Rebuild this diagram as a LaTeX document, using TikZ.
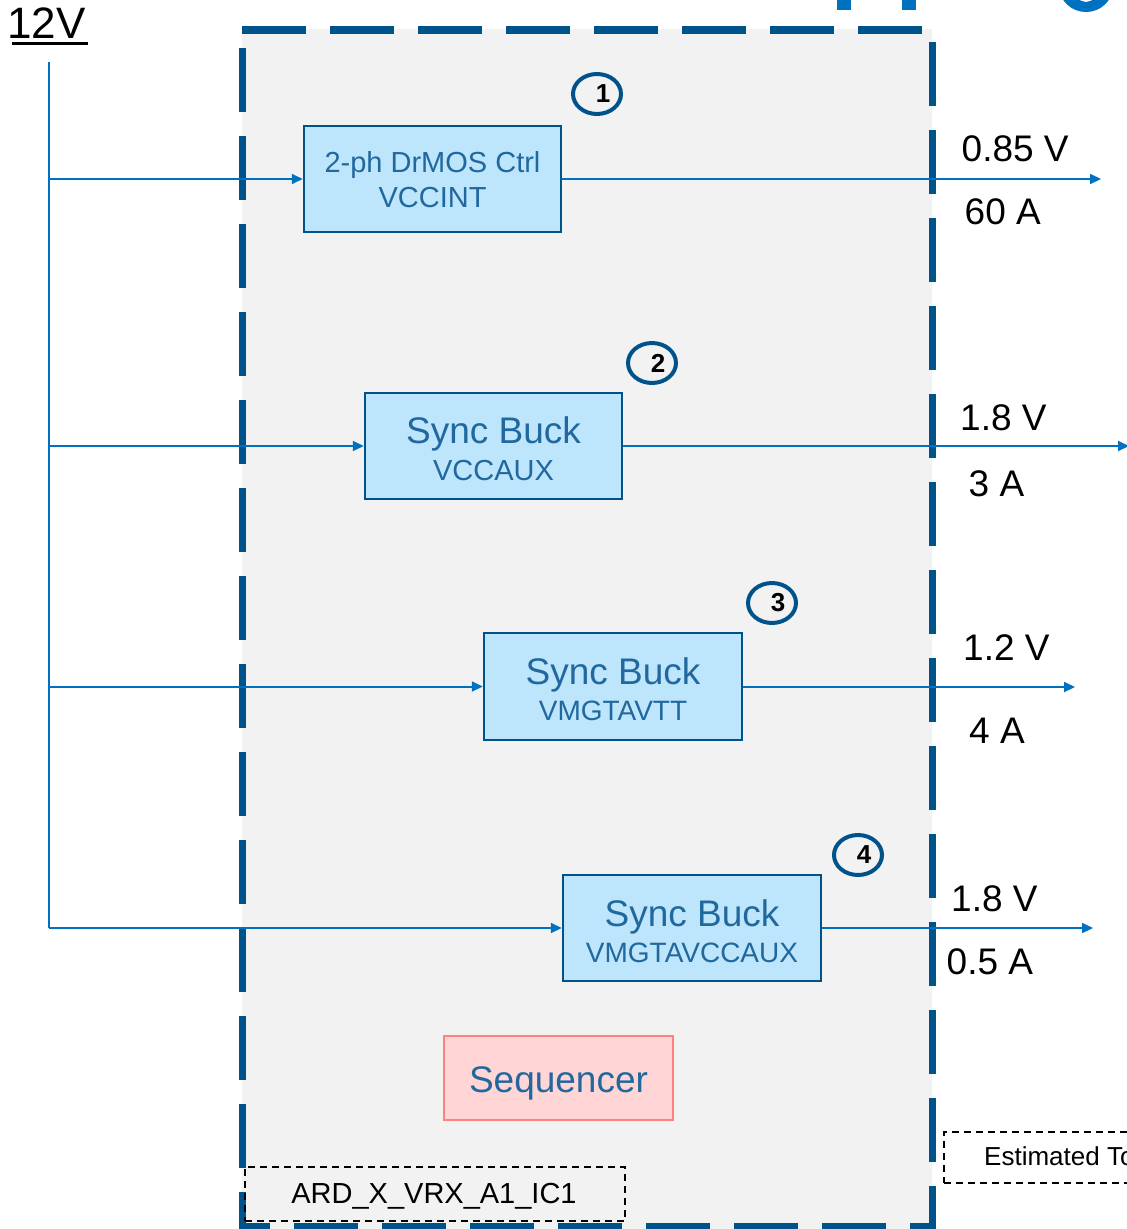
\documentclass[tikz,border=0pt]{standalone}
\usepackage{fontspec}
\setmainfont{Liberation Sans}
\usetikzlibrary{arrows.meta,shapes.geometric}
\definecolor{frameblue}{RGB}{0,83,138}
\definecolor{lineblue}{RGB}{0,112,192}
\definecolor{boxfill}{RGB}{189,229,252}
\definecolor{boxtext}{RGB}{33,104,158}
\definecolor{bggray}{RGB}{242,242,242}
\definecolor{seqfill}{RGB}{255,213,213}
\definecolor{seqdraw}{RGB}{255,128,128}
\newcommand{\myfs}[1]{\fontsize{#1}{#1}\selectfont}
\begin{document}
\begin{tikzpicture}[x=1pt,y=-1pt,
  frame/.style={draw=frameblue, line width=7.5pt, dash pattern=on 64pt off 24pt},
  conv/.style={draw=frameblue, line width=2.5pt, fill=boxfill, minimum width=257pt, minimum height=106pt, inner sep=0pt},
  seqbox/.style={draw=seqdraw, line width=2.5pt, fill=seqfill, minimum width=229pt, minimum height=84pt, inner sep=0pt},
  btxt/.style={text=boxtext, inner sep=0pt, anchor=base},
  wire/.style={draw=lineblue, line width=2pt},
  arr/.style={wire, -{Triangle[length=11pt,width=10pt]}},
  badge/.style={ellipse, draw=frameblue, line width=4pt, minimum width=48pt, minimum height=40pt, inner sep=0pt},
  num/.style={inner sep=0pt, font=\bfseries\myfs{26}, text=black},
  lbl/.style={inner sep=0pt, anchor=base west, font=\myfs{37}, text=black},
  tag/.style={draw=black, line width=1.8pt, dash pattern=on 7pt off 5pt, inner sep=0pt}
]
\useasboundingbox (0,0) rectangle (1127,1229);
\clip (0,0) rectangle (1127,1229);
\fill[white] (0,0) rectangle (1127,1229);

% cut-off title fragments
\fill[lineblue] (837,0) rectangle (851,10);
\fill[lineblue] (902,0) rectangle (916,10);
\fill[lineblue, even odd rule] (1086,-14) ellipse [x radius=27pt, y radius=26pt] (1086,-14) ellipse [x radius=13pt, y radius=16pt];

% module background and dashed frame
\fill[bggray] (242,29) rectangle (932,1229);
\draw[frame, dash phase=70pt] (242.5,30) -- (242.5,1230);
\draw[frame] (242,30) -- (935.5,30);
\draw[frame, dash phase=76pt] (932.5,30) -- (932.5,1230);
\draw[frame, dash phase=32.5pt] (238.5,1226.5) -- (936,1226.5);

% converters
\node[conv] (b1) at (432.5,179) {};
\node[btxt] (b1a) at (432.5,172) {\myfs{29}2-ph DrMOS Ctrl};
\node[btxt] (b1b) at (432.5,207) {\myfs{29}VCCINT};

\node[conv] (b2) at (493.5,446) {};
\node[btxt] (b2a) at (493.5,443) {\myfs{37}Sync Buck};
\node[btxt] (b2b) at (493.5,480) {\myfs{29}VCCAUX};

\node[conv, minimum width=258pt, minimum height=107pt] (b3) at (613,686.5) {};
\node[btxt] (b3a) at (613,684) {\myfs{37}Sync Buck};
\node[btxt] (b3b) at (613,720) {\myfs{28}VMGTAVTT};

\node[conv, minimum width=258pt] (b4) at (692,928) {};
\node[btxt] (b4a) at (692,926) {\myfs{37}Sync Buck};
\node[btxt] (b4b) at (692,962) {\myfs{28}VMGTAVCCAUX};

\node[seqbox] (seq) at (558.5,1078) {};
\node[btxt] (seqt) at (558.5,1092) {\myfs{37}Sequencer};

% numbered badges
\node[badge] (c1) at (597,94) {};
\node[num] (n1) at (603,94) {1};
\node[badge] (c2) at (652,363) {};
\node[num] (n2) at (658,363) {2};
\node[badge] (c3) at (772,603) {};
\node[num] (n3) at (778,603) {3};
\node[badge] (c4) at (858,855) {};
\node[num] (n4) at (864,855) {4};

% 12V input rail
\node[inner sep=0pt, anchor=base west, font=\myfs{44}] (v12) at (7,38) {12V};
\draw[line width=3pt] (12,43.5) -- (88,43.5);
\coordinate (vtop) at (49,62);
\coordinate (vbot) at (49,928);
\draw[wire] (vtop) -- (vbot);
\draw[arr] (vtop |- b1.west) -- (b1.west);
\draw[arr] (vtop |- b2.west) -- (b2.west);
\draw[arr] (vtop |- b3.west) -- (b3.west);
\draw[arr] (vbot) -- (b4.west);

% outputs
\coordinate (o1) at (1101,179);
\coordinate (o2) at (1129,446);
\coordinate (o3) at (1075,687);
\coordinate (o4) at (1093,928);
\draw[arr] (b1.east) -- (o1);
\draw[arr] (b2.east) -- (o2);
\draw[arr] (b3.east |- o3) -- (o3);
\draw[arr] (b4.east) -- (o4);

\node[lbl] (l1v) at (961.5,161) {0.85 V};
\node[lbl] (l1a) at (964.5,224) {60 A};
\node[lbl] (l2v) at (960,430) {1.8 V};
\node[lbl] (l2a) at (968.5,496) {3 A};
\node[lbl] (l3v) at (963,660) {1.2 V};
\node[lbl] (l3a) at (969,743) {4 A};
\node[lbl] (l4v) at (951,911) {1.8 V};
\node[lbl] (l4a) at (946.5,974) {0.5 A};

% tags
\node[tag, minimum width=380pt, minimum height=54pt] (ard) at (435,1194) {};
\node[inner sep=0pt, anchor=base, font=\myfs{29}] (ardt) at (434,1203) {ARD\_X\_VRX\_A1\_IC1};
\node[tag, minimum width=216pt, minimum height=51pt] (est) at (1052,1157.5) {};
\node[inner sep=0pt, anchor=base west, font=\myfs{26}] (estt) at (984,1165) {Estimated To};
\end{tikzpicture}
\end{document}
